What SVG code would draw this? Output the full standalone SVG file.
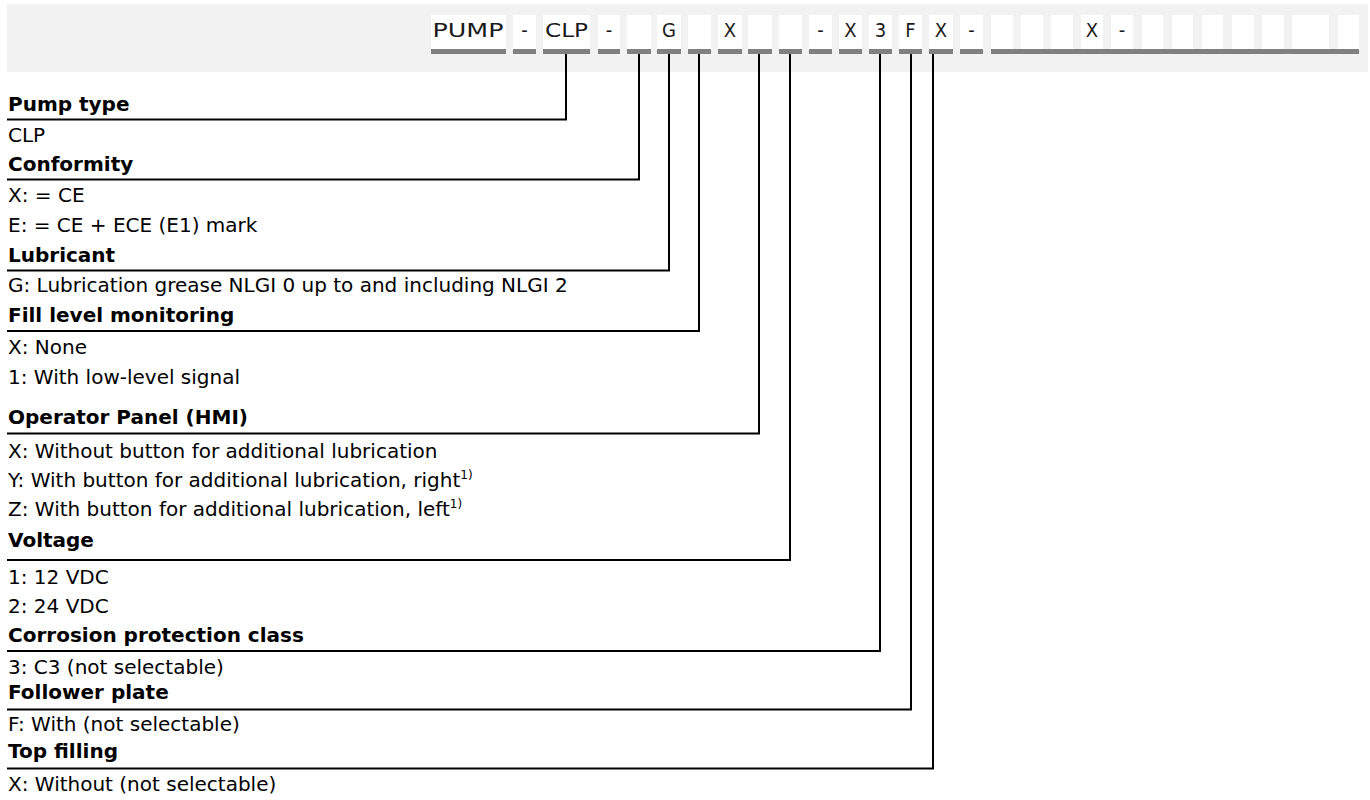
<svg xmlns="http://www.w3.org/2000/svg" width="1370" height="800" viewBox="0 0 1370 800">
<style>
.band{fill:#f2f2f2}
.cell{fill:#ffffff}
.ul{fill:#808080}
.code{font-family:"DejaVu Sans Condensed","DejaVu Sans",sans-serif;font-size:20px;fill:#1a1a1a;text-anchor:middle}
.h{font-family:"DejaVu Sans",sans-serif;font-size:20px;font-weight:bold;fill:#000}
.v{font-family:"DejaVu Sans",sans-serif;font-size:20px;fill:#000}
.sup{font-size:12px}
.con{fill:none;stroke:#000;stroke-width:2}
</style>
<rect class="band" x="7" y="4" width="1361" height="68"/>
<g id="code">
<rect class="cell" x="431" y="15" width="75" height="34"/><rect class="ul" x="431" y="49" width="75" height="5"/><text class="code" x="468" y="37" textLength="71" lengthAdjust="spacingAndGlyphs">PUMP</text>
<rect class="cell" x="513" y="15" width="23" height="34"/><rect class="ul" x="513" y="49" width="23" height="5"/><text class="code" x="524.5" y="37">-</text>
<rect class="cell" x="543" y="15" width="47" height="34"/><rect class="ul" x="543" y="49" width="47" height="5"/><text class="code" x="566.5" y="37" textLength="43" lengthAdjust="spacingAndGlyphs">CLP</text>
<rect class="cell" x="598" y="15" width="22" height="34"/><rect class="ul" x="598" y="49" width="22" height="5"/><text class="code" x="609" y="37">-</text>
<rect class="cell" x="627" y="15" width="24" height="34"/><rect class="ul" x="627" y="49" width="24" height="5"/>
<rect class="cell" x="657" y="15" width="24" height="34"/><rect class="ul" x="657" y="49" width="24" height="5"/><text class="code" x="669" y="37">G</text>
<rect class="cell" x="688" y="15" width="23" height="34"/><rect class="ul" x="688" y="49" width="23" height="5"/>
<rect class="cell" x="718" y="15" width="24" height="34"/><rect class="ul" x="718" y="49" width="24" height="5"/><text class="code" x="730" y="37">X</text>
<rect class="cell" x="748" y="15" width="24" height="34"/><rect class="ul" x="748" y="49" width="24" height="5"/>
<rect class="cell" x="779" y="15" width="23" height="34"/><rect class="ul" x="779" y="49" width="23" height="5"/>
<rect class="cell" x="809" y="15" width="23" height="34"/><rect class="ul" x="809" y="49" width="23" height="5"/><text class="code" x="820.5" y="37">-</text>
<rect class="cell" x="839" y="15" width="23" height="34"/><rect class="ul" x="839" y="49" width="23" height="5"/><text class="code" x="850.5" y="37">X</text>
<rect class="cell" x="869" y="15" width="23" height="34"/><rect class="ul" x="869" y="49" width="23" height="5"/><text class="code" x="880.5" y="37">3</text>
<rect class="cell" x="899" y="15" width="23" height="34"/><rect class="ul" x="899" y="49" width="23" height="5"/><text class="code" x="910.5" y="37">F</text>
<rect class="cell" x="929" y="15" width="24" height="34"/><rect class="ul" x="929" y="49" width="24" height="5"/><text class="code" x="941" y="37">X</text>
<rect class="cell" x="960" y="15" width="23" height="34"/><rect class="ul" x="960" y="49" width="23" height="5"/><text class="code" x="971.5" y="37">-</text>
<rect class="cell" x="991" y="15" width="22" height="34"/>
<rect class="cell" x="1021" y="15" width="22" height="34"/>
<rect class="cell" x="1051" y="15" width="22" height="34"/>
<rect class="cell" x="1081" y="15" width="22" height="34"/><text class="code" x="1092" y="37">X</text>
<rect class="cell" x="1111" y="15" width="22" height="34"/><text class="code" x="1122" y="37">-</text>
<rect class="cell" x="1142" y="15" width="21" height="34"/>
<rect class="cell" x="1172" y="15" width="21" height="34"/>
<rect class="cell" x="1202" y="15" width="21" height="34"/>
<rect class="cell" x="1232" y="15" width="22" height="34"/>
<rect class="cell" x="1262" y="15" width="22" height="34"/>
<rect class="cell" x="1292" y="15" width="37" height="34"/>
<rect class="cell" x="1338" y="15" width="21" height="34"/>
<rect class="ul" x="991" y="49" width="368" height="5"/>
</g>
<g id="connectors">
<path class="con" d="M7 119.5H566V54"/>
<path class="con" d="M7 179.5H639V54"/>
<path class="con" d="M7 270.5H669V54"/>
<path class="con" d="M7 331H699V54"/>
<path class="con" d="M7 433.5H759V54"/>
<path class="con" d="M7 560H790V54"/>
<path class="con" d="M7 651H880V54"/>
<path class="con" d="M7 709.5H911V54"/>
<path class="con" d="M7 768.5H933V54"/>
</g>
<g id="pump-type"><text class="h" x="8" y="110.5">Pump type</text><text class="v" x="8" y="141.5">CLP</text></g>
<g id="conformity"><text class="h" x="8" y="170.5">Conformity</text><text class="v" x="8" y="201.5">X: = CE</text><text class="v" x="8" y="231.5">E: = CE + ECE (E1) mark</text></g>
<g id="lubricant"><text class="h" x="8" y="261.5">Lubricant</text><text class="v" x="8" y="292">G: Lubrication grease NLGI 0 up to and including NLGI 2</text></g>
<g id="fill-level"><text class="h" x="8" y="322">Fill level monitoring</text><text class="v" x="8" y="353.5">X: None</text><text class="v" x="8" y="383.5">1: With low-level signal</text></g>
<g id="operator-panel"><text class="h" x="8" y="423.5">Operator Panel (HMI)</text><text class="v" x="8" y="458">X: Without button for additional lubrication</text><text class="v" x="8" y="487">Y: With button for additional lubrication, right<tspan class="sup" dy="-8">1)</tspan></text><text class="v" x="8" y="515.5">Z: With button for additional lubrication, left<tspan class="sup" dy="-8">1)</tspan></text></g>
<g id="voltage"><text class="h" x="8" y="547">Voltage</text><text class="v" x="8" y="584">1: 12 VDC</text><text class="v" x="8" y="612.5">2: 24 VDC</text></g>
<g id="corrosion"><text class="h" x="8" y="642">Corrosion protection class</text><text class="v" x="8" y="673.5">3: C3 (not selectable)</text></g>
<g id="follower-plate"><text class="h" x="8" y="699">Follower plate</text><text class="v" x="8" y="731">F: With (not selectable)</text></g>
<g id="top-filling"><text class="h" x="8" y="758">Top filling</text><text class="v" x="8" y="790.5">X: Without (not selectable)</text></g>
</svg>
